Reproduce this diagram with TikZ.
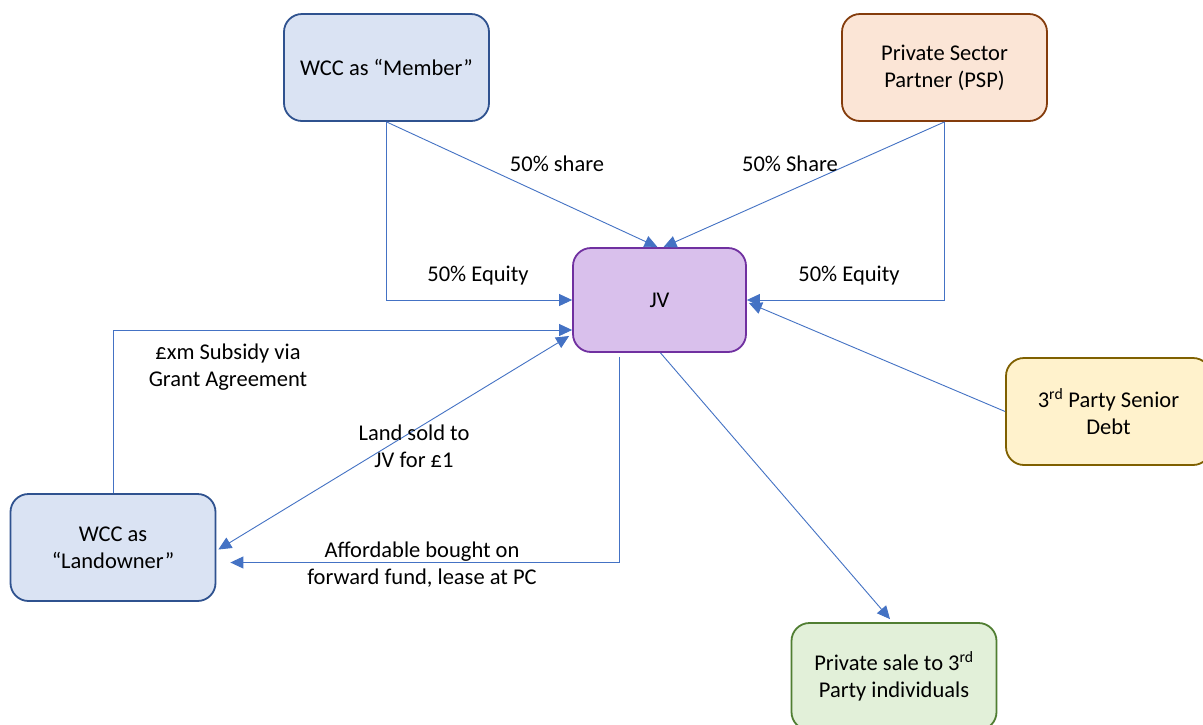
\documentclass[tikz,border=0pt]{standalone}
\usepackage{fontspec}
\setmainfont{Carlito}
\usetikzlibrary{arrows.meta}
\definecolor{link}{HTML}{4472C4}
\definecolor{blueFill}{HTML}{DAE3F3}
\definecolor{blueLine}{HTML}{2F528F}
\definecolor{orangeFill}{HTML}{FBE5D6}
\definecolor{orangeLine}{HTML}{843C0C}
\definecolor{purpleFill}{HTML}{D9C0EC}
\definecolor{purpleLine}{HTML}{7030A0}
\definecolor{yellowFill}{HTML}{FFF2CC}
\definecolor{yellowLine}{HTML}{7F6000}
\definecolor{greenFill}{HTML}{E2F0D9}
\definecolor{greenLine}{HTML}{507E32}
\tikzset{
  party/.style={rounded corners=18pt, line width=1.8pt, minimum width=205pt,
    minimum height=107pt, align=center, inner sep=0pt,
    font=\fontsize{22.5}{27}\selectfont},
  flow/.style={draw=link, line width=0.9pt, -{Triangle[length=13pt,width=12pt]}},
  twoway/.style={draw=link, line width=0.9pt,
    {Triangle[length=13pt,width=12pt]}-{Triangle[length=13pt,width=12pt]}},
  tag/.style={align=center, font=\fontsize{22.5}{27}\selectfont, inner sep=0pt}
}
\begin{document}
\begin{tikzpicture}[x=1pt,y=-1pt]
\useasboundingbox (0,0) rectangle (1203,724);
\fill[white] (0,0) rectangle (1203,724);

% parties
\node[party, fill=blueFill, draw=blueLine] (member) at (386.5,67.5) {WCC as “Member”};
\node[party, fill=orangeFill, draw=orangeLine] (psp) at (944.5,67.5) {Private Sector\\Partner (PSP)};
\node[party, fill=purpleFill, draw=purpleLine, minimum width=173pt, minimum height=104pt] (jv) at (659.5,300) {JV};
\node[party, fill=yellowFill, draw=yellowLine] (debt) at (1108.5,411.5) {3\textsuperscript{rd} Party Senior\\Debt};
\node[party, fill=blueFill, draw=blueLine] (land) at (113,547.5) {WCC as\\“Landowner”};
\node[party, fill=greenFill, draw=greenLine] (sale) at (894,676.5) {Private sale to 3\textsuperscript{rd}\\Party individuals};

% free ends (shifts are in page direction: negative y is downwards)
\coordinate (jvLow) at ([xshift=-40,yshift=-4]jv.south);
\coordinate (landIn) at ([xshift=14,yshift=-15]land.east);

% connectors
\draw[flow] (member.south) -- ([xshift=-2]jv.north);
\draw[flow] (psp.south) -- ([xshift=4]jv.north);
\draw[flow] (member.south) |- (jv.west);
\draw[flow] (psp.south) |- (jv.east);
\draw[flow] (debt.west) -- ([xshift=2,yshift=-3]jv.east);
\draw[flow] (land.north) |- ([yshift=-30]jv.west);
\draw[twoway] ([xshift=2,yshift=-2]land.east) -- ([xshift=-3,yshift=-36]jv.west);
\draw[flow] (jvLow) |- (landIn);
\draw[flow] ([xshift=1]jv.south) -- ([xshift=-4,yshift=3]sale.north);

% labels
\node[tag] (l1) at (557,164) {50\% share};
\node[tag] (l2) at (790,164) {50\% Share};
\node[tag] (l3) at (478,276) {50\% Equity};
\node[tag] (l4) at (849,276) {50\% Equity};
\node[tag] (l5) at (228,367) {£xm Subsidy via\\Grant Agreement};
\node[tag] (l6) at (414,446) {Land sold to\\JV for £1};
\node[tag] (l7) at (422,565) {Affordable bought on\\forward fund, lease at PC};
\end{tikzpicture}
\end{document}
